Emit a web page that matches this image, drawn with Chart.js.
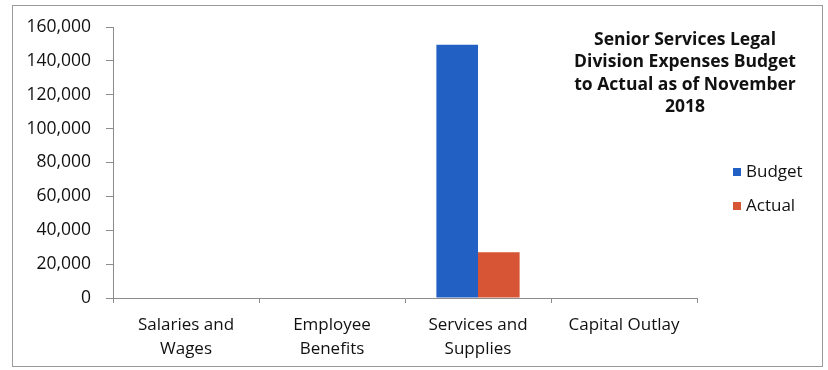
<!DOCTYPE html>
<html>
<head>
<meta charset="utf-8">
<script src="https://cdn.jsdelivr.net/npm/chart.js@4/dist/chart.umd.min.js"></script>
<style>
  html, body { margin: 0; padding: 0; background: #fff; }
  #wrap { width: 828px; height: 370px; position: relative; }
</style>
</head>
<body>
<div id="wrap"><canvas id="grafico"></canvas></div>
<script>
// Datos del gráfico
const categories = [['Salaries and', 'Wages'], ['Employee', 'Benefits'], ['Services and', 'Supplies'], 'Capital Outlay'];
const budget = [0, 0, 149500, 0];
const actual = [0, 0, 27000, 0];
const yTicks = [0, 20000, 40000, 60000, 80000, 100000, 120000, 140000, 160000];
const titleLines = ['Senior Services Legal', 'Division Expenses Budget', 'to Actual as of November', '2018'];

const COLORS = {
  budget: '#2360c4',
  actual: '#d75535',
  axis: '#8c8c8c',
  text: '#111111'
};
const FONT = '"Open Sans", sans-serif';

// Marco, título y leyenda dibujados a mano
const decoraciones = {
  id: 'decoraciones',
  beforeDraw(chart) {
    const c = chart.ctx;
    c.save();
    c.fillStyle = '#fff';
    c.fillRect(0, 0, chart.width, chart.height);
    c.strokeStyle = '#9a9a9a';
    c.lineWidth = 1;
    c.strokeRect(12.5, 5.5, 810, 361);
    c.restore();
  },
  afterDraw(chart) {
    const c = chart.ctx;
    c.save();
    c.fillStyle = COLORS.text;
    c.font = 'bold 17.5px ' + FONT;
    c.textAlign = 'center';
    c.textBaseline = 'middle';
    titleLines.forEach((t, i) => c.fillText(t, 685, 40 + i * 22.4));

    c.font = '17px ' + FONT;
    c.textAlign = 'left';
    chart.data.datasets.forEach((ds, i) => {
      const y = 172 + i * 34;
      c.fillStyle = ds.backgroundColor;
      c.fillRect(733, y - 4, 8, 8);
      c.fillStyle = COLORS.text;
      c.fillText(ds.label, 746, y);
    });
    c.restore();
  }
};

const config = {
  type: 'bar',
  data: {
    labels: categories,
    datasets: [
      { label: 'Budget', data: budget, backgroundColor: COLORS.budget, categoryPercentage: 0.57, barPercentage: 1 },
      { label: 'Actual', data: actual, backgroundColor: COLORS.actual, categoryPercentage: 0.57, barPercentage: 1 }
    ]
  },
  options: {
    responsive: true,
    maintainAspectRatio: false,
    animation: false,
    layout: { padding: { top: 27, right: 131, bottom: 0, left: 0 } },
    plugins: {
      legend: { display: false },
      tooltip: { enabled: false }
    },
    scales: {
      x: {
        grid: { display: true, drawOnChartArea: false, drawTicks: true, tickLength: 5, color: COLORS.axis, offset: true },
        border: { display: true, color: COLORS.axis },
        ticks: { color: COLORS.text, font: { family: FONT, size: 17, lineHeight: 1.42 }, padding: 10, maxRotation: 0, autoSkip: false },
        afterFit(scale) { scale.height = 72; }
      },
      y: {
        min: 0,
        max: 160000,
        afterBuildTicks(scale) { scale.ticks = yTicks.map(v => ({ value: v })); },
        grid: { display: true, drawOnChartArea: false, drawTicks: true, tickLength: 7, color: COLORS.axis },
        border: { display: true, color: COLORS.axis },
        ticks: {
          color: COLORS.text,
          font: { family: FONT, size: 17.5 },
          padding: 15,
          callback: v => v.toLocaleString('en-US')
        },
        afterFit(scale) { scale.width = 113; }
      }
    }
  },
  plugins: [decoraciones]
};

window.addEventListener('DOMContentLoaded', () => {
  const ctx = document.getElementById('grafico').getContext('2d');
  new Chart(ctx, config);
});
</script>
</body>
</html>
